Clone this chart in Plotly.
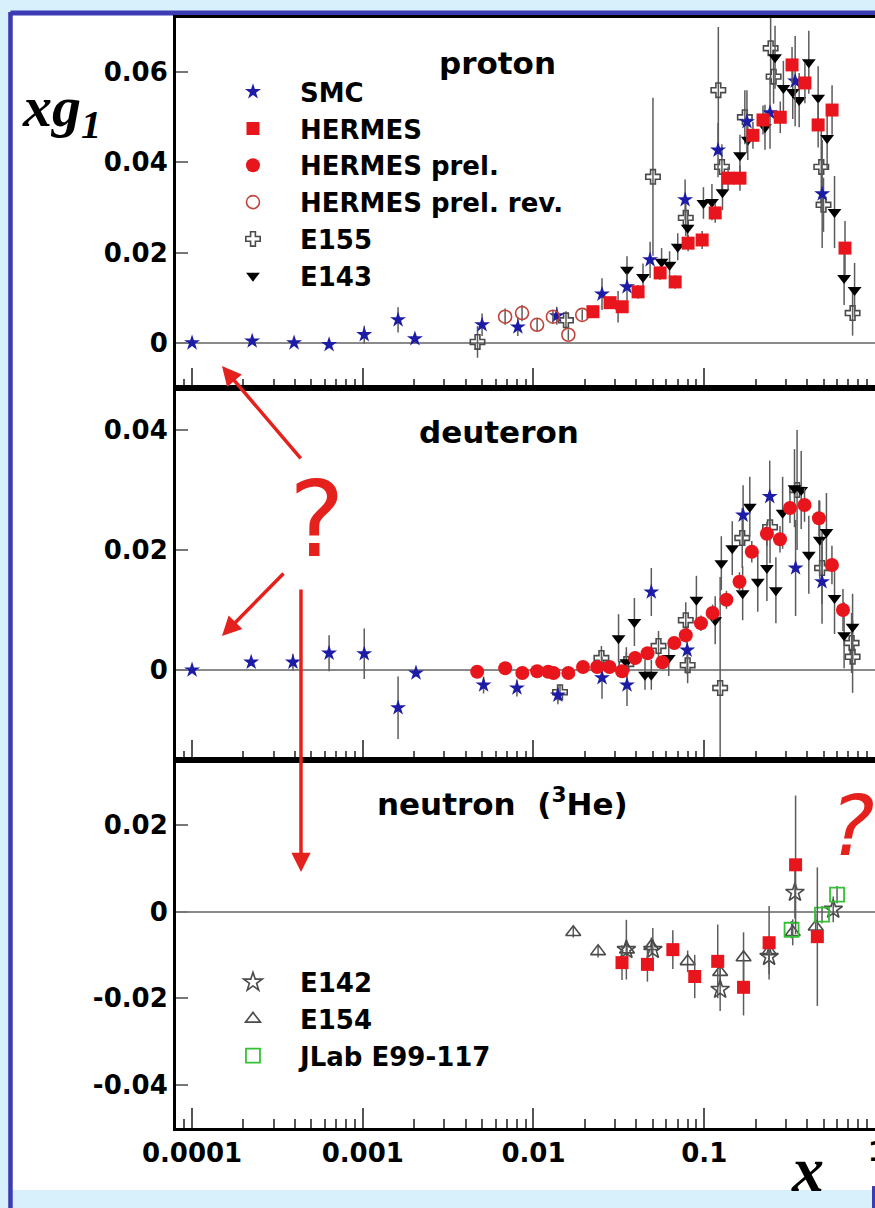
import plotly.graph_objects as go

# ---------------- proton ----------------
smc_p_x = [1.0e-4, 2.25e-4, 3.96e-4, 6.35e-4, 1.02e-3, 1.61e-3, 2.02e-3, 5.0e-3, 8.1e-3,
           0.0137, 0.0252, 0.0353, 0.0482, 0.0773, 0.1205, 0.178, 0.243, 0.341, 0.491]
smc_p_y = [0.0, 0.0004, 0.0, -0.0004, 0.0018, 0.0051, 0.0009, 0.0040, 0.0035,
           0.0060, 0.0108, 0.0124, 0.0184, 0.0317, 0.0427, 0.0490, 0.0510, 0.0580, 0.0330]
smc_p_e = [0.0006, 0.0006, 0.0006, 0.0008, 0.0020, 0.0028, 0.0010, 0.0025, 0.0020,
           0.0020, 0.0035, 0.0030, 0.0040, 0.0045, 0.0060, 0.0070, 0.0080, 0.0100, 0.0120]

her_p_x = [0.0223, 0.0281, 0.0331, 0.0410, 0.0552, 0.0676, 0.0805, 0.0973, 0.116, 0.138,
           0.162, 0.193, 0.221, 0.279, 0.327, 0.389, 0.465, 0.561, 0.668]
her_p_y = [0.0069, 0.0089, 0.0080, 0.0113, 0.0155, 0.0135, 0.0221, 0.0228, 0.0288, 0.0365,
           0.0365, 0.0460, 0.0494, 0.0500, 0.0616, 0.0576, 0.0483, 0.0516, 0.0210]
her_p_e = [0.0010, 0.0012, 0.0012, 0.0015, 0.0015, 0.0015, 0.0018, 0.0020, 0.0022, 0.0025,
           0.0028, 0.0030, 0.0032, 0.0035, 0.0040, 0.0045, 0.0050, 0.0055, 0.0060]

rev_p_x = [0.00682, 0.00857, 0.0105, 0.0130, 0.0160, 0.0193]
rev_p_y = [0.0058, 0.0066, 0.0040, 0.0058, 0.0018, 0.0062]
rev_p_e = [0.0018, 0.0018, 0.0015, 0.0015, 0.0012, 0.0012]

e155_p_x = [0.0047, 0.0155, 0.0501, 0.078, 0.121, 0.127, 0.173, 0.245, 0.255, 0.485, 0.50, 0.74]
e155_p_y = [0.0002, 0.0050, 0.0368, 0.0277, 0.0560, 0.0390, 0.0500, 0.0653, 0.0590, 0.0390, 0.0306, 0.0066]
e155_p_e = [0.0035, 0.0020, 0.0175, 0.0040, 0.0140, 0.0050, 0.0060, 0.0080, 0.0060, 0.0090, 0.0060, 0.0050]

e143_p_x = [0.0313, 0.0353, 0.0438, 0.0563, 0.0627, 0.070, 0.080, 0.099, 0.111, 0.128, 0.162, 0.180,
            0.227, 0.260, 0.291, 0.330, 0.360, 0.410, 0.465, 0.525, 0.580, 0.660, 0.760]
e143_p_y = [0.0080, 0.0162, 0.0146, 0.0180, 0.0173, 0.0213, 0.0255, 0.0310, 0.0312, 0.0334, 0.0416, 0.0450,
            0.0478, 0.0633, 0.0565, 0.0556, 0.0538, 0.0622, 0.0543, 0.0454, 0.0290, 0.0144, 0.0117]
e143_p_e = [0.0035, 0.0030, 0.0030, 0.0030, 0.0030, 0.0030, 0.0035, 0.0035, 0.0040, 0.0040, 0.0045, 0.0045,
            0.0050, 0.0070, 0.0060, 0.0060, 0.0060, 0.0070, 0.0070, 0.0070, 0.0080, 0.0060, 0.0060]

# ---------------- deuteron ----------------
smc_d_x = [1.0e-4, 2.22e-4, 3.9e-4, 6.35e-4, 1.02e-3, 1.61e-3, 2.05e-3, 5.1e-3, 8.0e-3,
           0.0139, 0.0252, 0.0353, 0.049, 0.0795, 0.169, 0.242, 0.343, 0.49]
smc_d_y = [0.0, 0.0013, 0.0013, 0.0028, 0.0027, -0.0063, -0.0005, -0.0025, -0.0030,
           -0.0042, -0.0013, -0.0025, 0.0130, 0.0033, 0.0258, 0.0289, 0.0170, 0.0147]
smc_d_e = [0.0004, 0.0006, 0.0014, 0.0030, 0.0042, 0.0052, 0.0006, 0.0014, 0.0014,
           0.0015, 0.0035, 0.0035, 0.0040, 0.0040, 0.0050, 0.0060, 0.0080, 0.0070]

prel_d_x = [0.00468, 0.00683, 0.0086, 0.0105, 0.0122, 0.0131, 0.016, 0.0195, 0.0236, 0.0279, 0.033,
            0.0394, 0.0466, 0.0568, 0.0668, 0.078, 0.0957, 0.112, 0.135, 0.161, 0.19, 0.233,
            0.278, 0.318, 0.387, 0.47, 0.56, 0.65]
prel_d_y = [-0.0003, 0.0003, -0.0005, -0.0002, -0.0003, -0.0005, -0.0005, 0.0005, 0.0005, 0.0005, -0.0002,
            0.0020, 0.0028, 0.0013, 0.0045, 0.0058, 0.0078, 0.0095, 0.0117, 0.0147, 0.0197, 0.0227,
            0.0218, 0.0270, 0.0275, 0.0253, 0.0175, 0.0100]
prel_d_e = [0.0006, 0.0006, 0.0006, 0.0006, 0.0006, 0.0006, 0.0006, 0.0007, 0.0007, 0.0008, 0.0008,
            0.0009, 0.0010, 0.0010, 0.0011, 0.0012, 0.0013, 0.0014, 0.0015, 0.0016, 0.0018, 0.0020,
            0.0022, 0.0025, 0.0028, 0.0030, 0.0032, 0.0035]

e155_d_x = [0.0143, 0.025, 0.035, 0.054, 0.078, 0.08, 0.124, 0.167, 0.243, 0.35, 0.49, 0.73, 0.74]
e155_d_y = [-0.0037, 0.0020, 0.0010, 0.0040, 0.0083, 0.0008, -0.0030, 0.0220, 0.0238, 0.0300, 0.0170, 0.0045, 0.0022]
e155_d_e = [0.0012, 0.0020, 0.0020, 0.0025, 0.0030, 0.0030, 0.0185, 0.0050, 0.0060, 0.0100, 0.0060, 0.0050, 0.0060]

e143_d_x = [0.0315, 0.035, 0.039, 0.045, 0.049, 0.062, 0.090, 0.116, 0.126, 0.146, 0.168, 0.185,
            0.206, 0.233, 0.263, 0.288, 0.338, 0.37, 0.41, 0.475, 0.52, 0.58, 0.66, 0.74]
e143_d_y = [0.0053, 0.0013, 0.0080, -0.0008, -0.0008, 0.0020, 0.0117, 0.0083, 0.0178, 0.0203, 0.0128, 0.0272,
            0.0147, 0.0170, 0.0133, 0.0262, 0.0303, 0.0300, 0.0192, 0.0217, 0.0230, 0.0120, 0.0058, 0.0072]
e143_d_e = [0.0040, 0.0025, 0.0040, 0.0025, 0.0025, 0.0030, 0.0040, 0.0040, 0.0045, 0.0045, 0.0045, 0.0050,
            0.0050, 0.0055, 0.0055, 0.0060, 0.0065, 0.0065, 0.0065, 0.0065, 0.0065, 0.0060, 0.0055, 0.0055]

# ---------------- neutron (3He) ----------------
her_n_x = [0.033, 0.0465, 0.0655, 0.088, 0.12, 0.17, 0.24, 0.343, 0.46]
her_n_y = [-0.0118, -0.0122, -0.0088, -0.0150, -0.0115, -0.0175, -0.0072, 0.0108, -0.0058]
her_n_e = [0.0040, 0.0040, 0.0045, 0.0050, 0.0085, 0.0065, 0.0085, 0.0160, 0.0160]

e142_n_x = [0.035, 0.050, 0.124, 0.24, 0.34, 0.57]
e142_n_y = [-0.0088, -0.0088, -0.0180, -0.0104, 0.0044, 0.0005]
e142_n_e = [0.0069, 0.0050, 0.0050, 0.0040, 0.0060, 0.0030]

e154_n_x = [0.0171, 0.0239, 0.0353, 0.049, 0.080, 0.124, 0.17, 0.24, 0.33, 0.45]
e154_n_y = [-0.0048, -0.0092, -0.0088, -0.0080, -0.0115, -0.0140, -0.0106, -0.0092, -0.0048, -0.0035]
e154_n_e = [0.0012, 0.0014, 0.0018, 0.0020, 0.0025, 0.0030, 0.0058, 0.0035, 0.0030, 0.0030]

jlab_n_x = [0.325, 0.49, 0.60]
jlab_n_y = [-0.0042, -0.0007, 0.0039]
jlab_n_e = [0.0020, 0.0020, 0.0020]

# ---------------- axes ----------------
x_tick_vals = [1e-4, 1e-3, 1e-2, 1e-1]
x_tick_text = ["0.0001", "0.001", "0.01", "0.1"]
x_edge_label = "1"
x_minor_vals = [m * 10.0 ** k for k in range(-5, 1) for m in range(2, 10)]
p_tick_vals = [0, 0.02, 0.04, 0.06]
p_tick_text = ["0", "0.02", "0.04", "0.06"]
d_tick_vals = [0, 0.02, 0.04]
d_tick_text = ["0", "0.02", "0.04"]
n_tick_vals = [-0.04, -0.02, 0, 0.02]
n_tick_text = ["-0.04", "-0.02", "0", "0.02"]

BLUE = "#1c1ca6"
RED = "#e8161c"
REV = "#c0443a"
GREY = "#4a4a4a"
BLACK = "#000000"
GREEN = "#33c233"
ERR = "#5c5c5c"

fig = go.Figure()


def add(xs, ys, es, name, symbol, color, size, panel, group, show, legend="legend", rank=1, lw=0):
    axis = {1: ("x", "y"), 2: ("x2", "y2"), 3: ("x3", "y3")}[panel]
    fig.add_trace(go.Scatter(
        x=xs, y=ys, mode="markers", name=name,
        xaxis=axis[0], yaxis=axis[1],
        legendgroup=group, showlegend=show, legend=legend, legendrank=rank,
        marker=dict(symbol=symbol, color=color, size=size, line=dict(width=lw, color=color)),
        error_y=dict(type="data", array=es, visible=True, color=ERR, thickness=1.5, width=0),
        cliponaxis=True,
    ))


# proton panel
add(e155_p_x, e155_p_y, e155_p_e, "E155", "cross-open", GREY, 12, 1, "e155", True, rank=5, lw=1.6)
add(e143_p_x, e143_p_y, e143_p_e, "E143", "triangle-down", BLACK, 12, 1, "e143", True, rank=6)
add(smc_p_x, smc_p_y, smc_p_e, "SMC", "star", BLUE, 12, 1, "smc", True, rank=1)
add(rev_p_x, rev_p_y, rev_p_e, "HERMES prel. rev.", "circle-open", REV, 13, 1, "rev", True, rank=4, lw=1.6)
add(her_p_x, her_p_y, her_p_e, "HERMES", "square", RED, 13, 1, "her", True, rank=2)

# deuteron panel
add(e155_d_x, e155_d_y, e155_d_e, "E155", "cross-open", GREY, 12, 2, "e155", False, lw=1.6)
add(e143_d_x, e143_d_y, e143_d_e, "E143", "triangle-down", BLACK, 12, 2, "e143", False)
add(smc_d_x, smc_d_y, smc_d_e, "SMC", "star", BLUE, 12, 2, "smc", False)
add(prel_d_x, prel_d_y, prel_d_e, "HERMES prel.", "circle", RED, 14, 2, "prel", True, rank=3)

# neutron panel
add(e154_n_x, e154_n_y, e154_n_e, "E154", "triangle-up-open", GREY, 13, 3, "e154", True, "legend2", 2, lw=1.6)
add(e142_n_x, e142_n_y, e142_n_e, "E142", "star-open", GREY, 14, 3, "e142", True, "legend2", 1, lw=1.6)
add(jlab_n_x, jlab_n_y, jlab_n_e, "JLab E99-117", "square-open", GREEN, 14, 3, "jlab", True, "legend2", 3, lw=1.8)
add(her_n_x, her_n_y, her_n_e, "HERMES", "square", RED, 13, 3, "her", False)

TICKFONT = dict(family="DejaVu Sans", size=26, color="black", weight="bold")

xbase = dict(
    type="log", range=[-4.094, 0.0005], showgrid=False, zeroline=False,
    showline=True, linecolor="black", linewidth=3, mirror=True,
    ticks="inside", ticklen=20, tickwidth=1.5, tickcolor="#555555",
    tickmode="array", tickvals=x_tick_vals, ticktext=x_tick_text,
    minor=dict(ticks="inside", ticklen=9, tickwidth=1.5, tickcolor="#555555",
               tickmode="array", tickvals=x_minor_vals, showgrid=False),
    tickfont=TICKFONT, domain=[0, 1], automargin=False,
)

ybase = dict(
    showgrid=False, zeroline=True, zerolinecolor="#8a8a8a", zerolinewidth=2,
    showline=True, linecolor="black", linewidth=3, mirror=False,
    ticks="inside", ticklen=12, tickwidth=1.5, tickcolor="#777777",
    tickmode="array", tickfont=TICKFONT, automargin=False,
)

LEGFONT = dict(family="DejaVu Sans", size=26, color="black", weight="bold")

fig.update_layout(
    width=875, height=1208,
    margin=dict(l=176, r=0, t=18, b=80, autoexpand=False),
    paper_bgcolor="#d8f0fb", plot_bgcolor="white",
    font=dict(family="DejaVu Sans", color="black"),
    xaxis=dict(xbase, anchor="y", showticklabels=False),
    xaxis2=dict(xbase, anchor="y2", matches="x", showticklabels=False),
    xaxis3=dict(xbase, anchor="y3", matches="x", showticklabels=True),
    yaxis=dict(ybase, anchor="x", domain=[0.6667, 1.0], range=[-0.01, 0.072],
               tickvals=p_tick_vals, ticktext=p_tick_text),
    yaxis2=dict(ybase, anchor="x2", domain=[0.3315, 0.6667], range=[-0.015, 0.047],
                tickvals=d_tick_vals, ticktext=d_tick_text),
    yaxis3=dict(ybase, anchor="x3", domain=[0.0, 0.3315], range=[-0.05, 0.035],
                tickvals=n_tick_vals, ticktext=n_tick_text),
    legend=dict(x=0.0429, y=0.9547, xanchor="left", yanchor="top", bgcolor="rgba(0,0,0,0)",
                font=LEGFONT, traceorder="normal", itemsizing="trace", itemwidth=84),
    legend2=dict(x=0.0429, y=0.1525, xanchor="left", yanchor="top", bgcolor="rgba(0,0,0,0)",
                 font=LEGFONT, traceorder="normal", itemsizing="trace", itemwidth=84),
    showlegend=True,
)

# slide frame behind the chart
FRAME = "#3b3bb4"
fig.add_shape(type="rect", xref="paper", yref="paper", x0=-0.2375, x1=1.01, y0=-0.0559, y1=1.0054,
              fillcolor="white", line=dict(width=0), layer="below")
fig.add_shape(type="line", xref="paper", yref="paper", x0=-0.2368, x1=-0.2368, y0=1.0054, y1=-0.08,
              line=dict(color=FRAME, width=4.5), layer="below")
fig.add_shape(type="line", xref="paper", yref="paper", x0=-0.2368, x1=1.01, y0=1.0045, y1=1.0045,
              line=dict(color=FRAME, width=5), layer="below")
fig.add_shape(type="rect", xref="paper", yref="paper", x0=0.9957, x1=1.01, y0=-0.0523, y1=-0.08,
              fillcolor=FRAME, line=dict(width=0), layer="below")

# the "1" label of the last decade sits on the right edge and is cut by it
fig.add_annotation(text=x_edge_label, xref="paper", yref="paper", x=1.003, y=-0.0216,
                   xanchor="center", yanchor="middle", showarrow=False, font=TICKFONT)

LABEL = dict(family="DejaVu Sans", size=31, color="black", weight="bold")
fig.add_annotation(text="proton", xref="paper", yref="paper", x=0.3734, y=0.9595,
                   xanchor="left", yanchor="middle", showarrow=False, font=LABEL)
fig.add_annotation(text="deuteron", xref="paper", yref="paper", x=0.3448, y=0.627,
                   xanchor="left", yanchor="middle", showarrow=False, font=LABEL)
fig.add_annotation(text="neutron  (<sup>3</sup>He)", xref="paper", yref="paper", x=0.2847, y=0.2937,
                   xanchor="left", yanchor="middle", showarrow=False, font=LABEL)

SERIF = dict(family="Liberation Serif", color="black", weight="bold")
fig.add_annotation(text="<i>xg</i><sub><i>1</i></sub>", xref="paper", yref="paper", x=-0.2232, y=0.917,
                   xanchor="left", yanchor="middle", showarrow=False, font=dict(SERIF, size=58))
fig.add_annotation(text="<i>x</i>", xref="paper", yref="paper", x=0.904, y=-0.0378,
                   xanchor="center", yanchor="middle", showarrow=False, font=dict(SERIF, size=64))

# hand-drawn red question marks and arrows
QRED = "#e5211d"
fig.add_annotation(text="?", xref="paper", yref="paper", x=0.2017, y=0.5477, xanchor="center",
                   yanchor="middle", showarrow=False, font=dict(family="DejaVu Sans", size=105, color=QRED))
fig.add_annotation(text="<i>?</i>", xref="paper", yref="paper", x=0.9685, y=0.272, xanchor="center",
                   yanchor="middle", showarrow=False, font=dict(family="DejaVu Sans", size=84, color=QRED))
for hx, hy, ax, ay in [(0.0658, 0.6865, 80, 94), (0.0658, 0.4432, 63, -64), (0.1788, 0.2306, 0, -284)]:
    fig.add_annotation(text="", xref="paper", yref="paper", x=hx, y=hy, ax=ax, ay=ay,
                       showarrow=True, arrowhead=2, arrowsize=1.1, arrowwidth=3.5, arrowcolor=QRED)

fig.write_html("out.html")
